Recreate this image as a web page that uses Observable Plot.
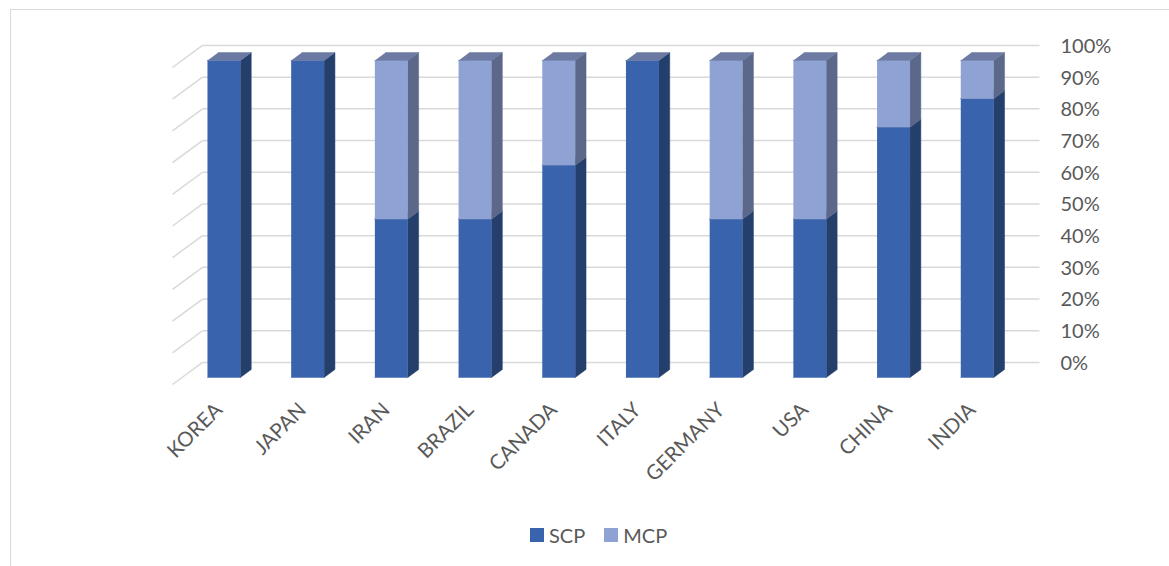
<!DOCTYPE html>
<html>
<head>
<meta charset="utf-8">
<script src="https://cdn.jsdelivr.net/npm/d3@7"></script>
<script src="https://cdn.jsdelivr.net/npm/@observablehq/plot@0.6"></script>
<style>
  body { margin: 0; background: #fff; font-family: Lato, "Open Sans", sans-serif; }
  #frame { position: absolute; left: 10px; top: 9px; width: 1200px; height: 600px; border: 1px solid #d9d9d9; }
  #chart { position: absolute; left: 0; top: 0; }
  #legend { position: absolute; top: 523px; left: 530px; display: flex; align-items: center; font-size: 20px; color: #595959; line-height: 24px; }
  #legend .sw { width: 14px; height: 14px; display: inline-block; margin-right: 5px; }
  #legend .item { display: flex; align-items: center; margin-right: 19px; }
</style>
</head>
<body>
<div id="frame"></div>
<div id="chart"></div>
<div id="legend"></div>
<script>
// Share of SCP and MCP by country (100% stacked columns)
const countries = ["KOREA", "JAPAN", "IRAN", "BRAZIL", "CANADA", "ITALY", "GERMANY", "USA", "CHINA", "INDIA"];
const scp = [100, 100, 50, 50, 67, 100, 50, 50, 79, 88];
const mcp = [0, 0, 50, 50, 33, 0, 50, 50, 21, 12];
const ticks = [0, 10, 20, 30, 40, 50, 60, 70, 80, 90, 100];
const tickLabels = ["0%", "10%", "20%", "30%", "40%", "50%", "60%", "70%", "80%", "90%", "100%"];
const seriesNames = ["SCP", "MCP"];

// Face colours of each series' boxes
const palette = {
  SCP: { front: "#3a63ad", side: "#253f6d", top: "#6a7aa2" },
  MCP: { front: "#8fa2d4", side: "#5b6889", top: "#6d7ba3" }
};

// Oblique projection: depth d in [0, 1] shifts a point up and to the right
const DEPTH_X = 0.3586;   // x-units per full depth
const DEPTH_Y = 6.95;     // percentage points per full depth
const BAR_HALF = 0.197;   // half bar width, x-units
const D0 = 0.32, D1 = 0.68; // bar front / back depth
const at = (x, y, d) => ({ x: x + d * DEPTH_X, y: y + d * DEPTH_Y });

const seriesValues = { SCP: scp, MCP: mcp };
const faces = [];
const base = countries.map(() => 0);
seriesNames.forEach(name => {
  const vals = seriesValues[name];
  const col = palette[name];
  countries.forEach((c, i) => {
    const y1 = base[i], y2 = y1 + vals[i];
    base[i] = y2;
    if (vals[i] <= 0) return;
    const l = i - BAR_HALF, r = i + BAR_HALF;
    const polys = [
      ["front", [at(l, y1, D0), at(r, y1, D0), at(r, y2, D0), at(l, y2, D0)]],
      ["side",  [at(r, y1, D0), at(r, y1, D1), at(r, y2, D1), at(r, y2, D0)]],
      ["top",   [at(l, y2, D0), at(r, y2, D0), at(r, y2, D1), at(l, y2, D1)]]
    ];
    polys.forEach(([kind, pts]) => {
      const id = `${name}-${c}-${kind}`;
      pts.forEach(p => faces.push({ id, color: col[kind], x: p.x, y: p.y }));
    });
  });
});

const chart = Plot.plot({
  width: 1169,
  height: 500,
  marginLeft: 172,
  marginRight: 160,
  marginTop: 67,
  marginBottom: 116,
  x: { type: "linear", domain: [-0.5, 9.5], axis: null },
  y: { domain: [0, 100], axis: null },
  color: { type: "identity" },
  style: { fontFamily: "Lato, 'Open Sans', sans-serif", overflow: "visible", background: "transparent" },
  marks: [
    // back wall gridlines
    Plot.link(ticks, {
      x1: () => -0.5 + DEPTH_X, x2: () => 9.5 + DEPTH_X,
      y1: t => t + DEPTH_Y, y2: t => t + DEPTH_Y,
      stroke: "#d9d9d9", strokeWidth: 1.5
    }),
    // side wall gridlines
    Plot.link(ticks, {
      x1: () => -0.5, x2: () => -0.5 + DEPTH_X,
      y1: t => t, y2: t => t + DEPTH_Y,
      stroke: "#d9d9d9", strokeWidth: 1.5
    }),
    // column faces
    Plot.line(faces, { x: "x", y: "y", z: "id", fill: "color", stroke: "color", strokeWidth: 0.5 }),
    // value axis labels on the right
    Plot.text(ticks, {
      x: () => 9.5 + DEPTH_X, y: t => t + DEPTH_Y,
      text: (t, i) => tickLabels[i],
      textAnchor: "start", dx: 21, dy: 1, fontSize: 20, fill: "#595959"
    }),
    // category labels
    Plot.text(countries, {
      x: (c, i) => i + D0 * DEPTH_X, y: () => D0 * DEPTH_Y,
      text: c => c, rotate: -45, textAnchor: "end", dy: 29, dx: -5,
      fontSize: 20.5, fill: "#595959"
    })
  ]
});
document.getElementById("chart").appendChild(chart);

const legend = document.getElementById("legend");
seriesNames.forEach(name => {
  const item = document.createElement("span");
  item.className = "item";
  const sw = document.createElement("span");
  sw.className = "sw";
  sw.style.background = palette[name].front;
  item.appendChild(sw);
  item.appendChild(document.createTextNode(name));
  legend.appendChild(item);
});
</script>
</body>
</html>
